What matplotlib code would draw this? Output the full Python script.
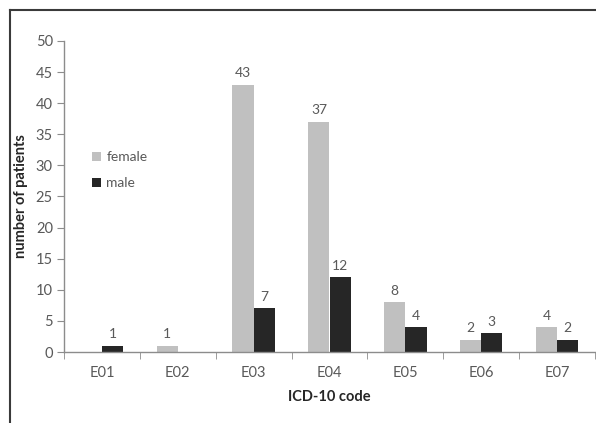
import numpy as np
import matplotlib
matplotlib.use("Agg")
import matplotlib.pyplot as plt
from matplotlib.lines import Line2D

codes = ["E01", "E02", "E03", "E04", "E05", "E06", "E07"]
female = [0, 1, 43, 37, 8, 2, 4]
male = [1, 0, 7, 12, 4, 3, 2]
yticks = [0, 5, 10, 15, 20, 25, 30, 35, 40, 45, 50]

plt.rcParams['font.family'] = ['Lato', 'DejaVu Sans']
text_col = "#595959"
axis_col = "#8c8c8c"

fig = plt.figure(figsize=(5.96, 4.23), dpi=100)
ax = fig.add_axes([64 / 596, 1 - 352 / 423, 531 / 596, (352 - 41) / 423])

x = np.arange(len(codes))
w = 0.28
bf = ax.bar(x - w / 2, female, w, color="#c0c0c0", label="female")
bm = ax.bar(x + w / 2, male, w, color="#262626", label="male")

# value labels, zeros skipped
for bars, vals in [(bf, female), (bm, male)]:
    for b, v in zip(bars, vals):
        if v > 0:
            ax.annotate(str(v), (b.get_x() + b.get_width() / 2, v),
                        xytext=(0, 4), textcoords="offset points",
                        ha="center", va="bottom", fontsize=10, color=text_col)

ax.set_xlim(-0.5, len(codes) - 0.5)
ax.set_ylim(0, 50)
ax.set_yticks(yticks)
ax.set_xticks(x)
ax.set_xticklabels(codes)
ax.set_xticks(np.arange(len(codes) + 1) - 0.5, minor=True)
ax.tick_params(axis="x", which="major", length=0, pad=10, labelsize=10.5, labelcolor=text_col)
ax.tick_params(axis="x", which="minor", length=5, color=axis_col, direction="out")
ax.tick_params(axis="y", length=5, color=axis_col, labelsize=10.5, labelcolor=text_col, pad=3)

for s in ["top", "right"]:
    ax.spines[s].set_visible(False)
for s in ["left", "bottom"]:
    ax.spines[s].set_color(axis_col)
    ax.spines[s].set_linewidth(1)

ax.set_xlabel("ICD-10 code", fontsize=10.5, fontweight="bold", color="#262626", labelpad=7)
ax.set_ylabel("number of patients", fontsize=10.5, fontweight="bold", color="#262626")
ax.yaxis.set_label_coords(-0.068, 0.5)

ax.legend(loc="upper left", bbox_to_anchor=(0.03, 0.685), frameon=False,
          fontsize=10, handlelength=0.6, handleheight=0.6, handletextpad=0.4,
          labelspacing=1.0, labelcolor=text_col)

# outer frame lines (top and left)
fig.add_artist(Line2D([9.5 / 596, 1], [1 - 10 / 423, 1 - 10 / 423],
                      transform=fig.transFigure, color="#3a3a3a", lw=1.5))
fig.add_artist(Line2D([9.5 / 596, 9.5 / 596], [0, 1 - 10 / 423],
                      transform=fig.transFigure, color="#3a3a3a", lw=1.5))

fig.savefig("out.png", dpi=100)
